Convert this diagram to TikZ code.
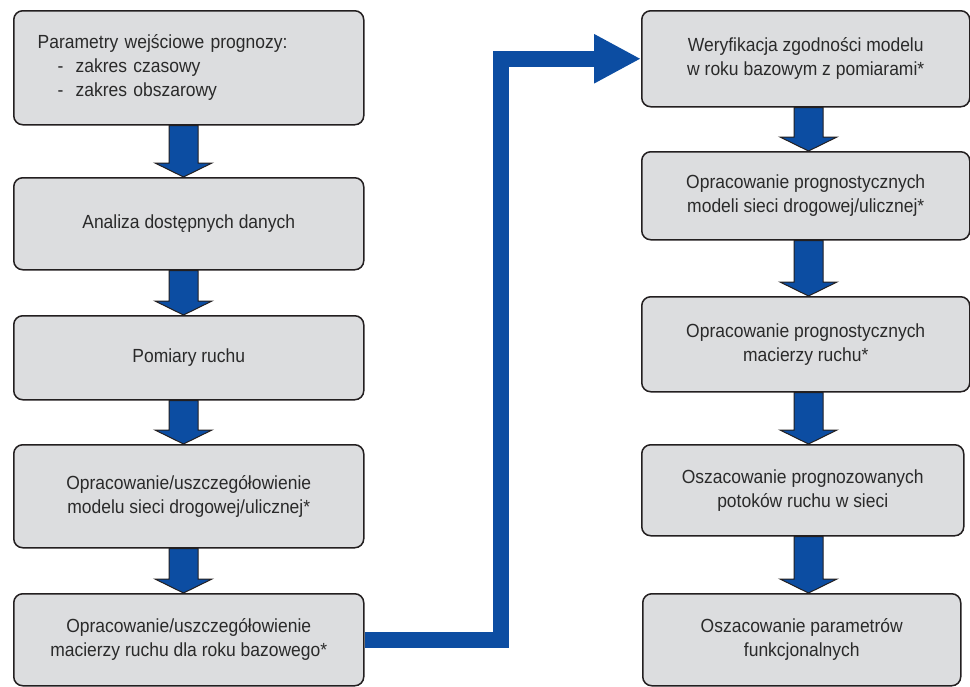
\documentclass[tikz,border=0pt]{standalone}
\usepackage{fontspec}
\setmainfont{Liberation Sans}[FakeStretch=0.92]
\usetikzlibrary{arrows.meta,calc}
\definecolor{boxgray}{HTML}{DCDDDF}
\definecolor{flowblue}{HTML}{0C4DA2}
\definecolor{edgedark}{HTML}{231F20}
\definecolor{txtgray}{HTML}{2A2A2A}
\tikzset{
  stepbox/.style={draw=edgedark, line width=1.5pt, fill=boxgray, rounded corners=9pt,
    anchor=north west, inner sep=0pt, align=center, text=txtgray,
    font=\fontsize{19}{24}\selectfont},
  flowarr/.style={fill=flowblue, draw=edgedark, line width=1pt, line join=miter},
  bigarr/.style={draw=flowblue, line width=16pt, line join=miter,
    -{Triangle[length=47pt,width=46pt]}},
}
\newcommand\flowarrow[3]{%
  \draw[flowarr] ($(#1 |- #2.south)+(-14.5pt,0)$) -- ($(#1 |- #3.north)+(-14.5pt,14pt)$)
   -- ($(#1 |- #3.north)+(-28.5pt,14pt)$) -- (#1 |- #3.north)
   -- ($(#1 |- #3.north)+(28.5pt,14pt)$) -- ($(#1 |- #3.north)+(14.5pt,14pt)$)
   -- ($(#1 |- #2.south)+(14.5pt,0)$) -- cycle;}
\begin{document}
\begin{tikzpicture}[x=1pt,y=-1pt]
\useasboundingbox (0,0) rectangle (970,686);
% left column
\node[stepbox, minimum width=350pt, minimum height=114pt, text width=302pt, inner xsep=24pt, align=left] (b1) at (13,10)
  {Parametry wejściowe prognozy:\\\hspace*{20pt}-\hspace*{12pt}zakres czasowy\\\hspace*{20pt}-\hspace*{12pt}zakres obszarowy};
\node[stepbox, minimum width=350pt, minimum height=92pt] (b2) at (13,177) {Analiza dostępnych danych};
\node[stepbox, minimum width=350pt, minimum height=84pt] (b3) at (13,315) {Pomiary ruchu};
\node[stepbox, minimum width=350pt, minimum height=103pt] (b4) at (13,444) {Opracowanie/uszczegółowienie\\modelu sieci drogowej/ulicznej*};
\node[stepbox, minimum width=350pt, minimum height=92pt] (b5) at (13,593) {Opracowanie/uszczegółowienie\\macierzy ruchu dla roku bazowego*};
% right column
\node[stepbox, minimum width=328pt, minimum height=96pt] (r1) at (641,10) {Weryfikacja zgodności modelu\\w roku bazowym z pomiarami*};
\node[stepbox, minimum width=328pt, minimum height=88pt] (r2) at (641,151) {Opracowanie prognostycznych\\modeli sieci drogowej/ulicznej*};
\node[stepbox, minimum width=328pt, minimum height=95pt] (r3) at (641,296) {Opracowanie prognostycznych\\macierzy ruchu*};
\node[stepbox, minimum width=322pt, minimum height=91pt] (r4) at (641,444) {Oszacowanie prognozowanych\\potoków ruchu w sieci};
\node[stepbox, minimum width=318pt, minimum height=92pt] (r5) at (642,593) {Oszacowanie parametrów\\funkcjonalnych};
% arrow columns
\coordinate (lcol) at (183.5,0);
\coordinate (rcol) at (808.5,0);
\coordinate (bend) at (501,0);
\flowarrow{lcol}{b1}{b2}
\flowarrow{lcol}{b2}{b3}
\flowarrow{lcol}{b3}{b4}
\flowarrow{lcol}{b4}{b5}
\flowarrow{rcol}{r1}{r2}
\flowarrow{rcol}{r2}{r3}
\flowarrow{rcol}{r3}{r4}
\flowarrow{rcol}{r4}{r5}
\draw[bigarr] (b5.east) -- (b5.east -| bend) -- (bend |- r1.west) -- (r1.west);
\end{tikzpicture}
\end{document}
